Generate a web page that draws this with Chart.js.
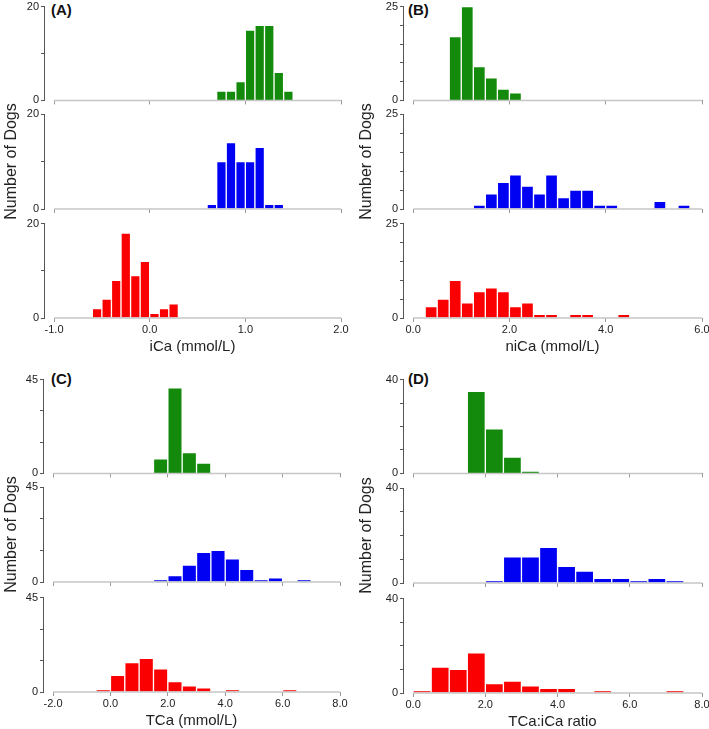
<!DOCTYPE html>
<html>
<head>
<meta charset="utf-8">
<script src="https://cdn.jsdelivr.net/npm/chart.js@4/dist/chart.umd.min.js"></script>
<style>
  body { margin: 0; width: 709px; height: 729px; overflow: hidden; background: #fff; position: relative; font-family: "Liberation Sans", Arial, sans-serif; }
  canvas { position: absolute; }
  .tag { position: absolute; font-weight: bold; font-size: 15px; line-height: 15px; color: #111; }
</style>
</head>
<body>
<div class="tag" style="left:51px;top:2px">(A)</div>
<div class="tag" style="left:408px;top:2px">(B)</div>
<div class="tag" style="left:51px;top:371px">(C)</div>
<div class="tag" style="left:408px;top:371px">(D)</div>
<script>
// iCa, bins of 0.1
const iCaTicks = [-1, 0, 1, 2];
const iCaStarts = [0.7, 0.6, -0.6];
const iCaGreen = [2, 2, 4, 15, 16, 16, 6, 2];
const iCaBlue = [1, 10, 14, 10, 10, 13, 1, 1];
const iCaRed = [2, 4, 8, 18, 9, 12, 1, 2, 3];

// niCa, bins of 0.25
const niCaTicks = [0, 2, 4, 6];
const niCaStarts = [0.75, 1.25, 0.25];
const niCaGreen = [17, 25, 9, 6, 3, 2];
const niCaBlue = [1, 4, 7, 9, 6, 4, 9, 3, 5, 5, 1, 1, 0, 0, 0, 2, 0, 1];
const niCaRed = [3, 5, 10, 4, 7, 8, 7, 3, 4, 1, 1, 0, 1, 1, 0, 0, 1];

// TCa, bins of 0.5
const tCaTicks = [-2, 0, 2, 4, 6, 8];
const tCaStarts = [1.5, 1.5, -0.5];
const tCaGreen = [7, 41, 10, 5];
const tCaBlue = [1, 3, 8, 14, 15, 11, 6, 1, 2, 0, 1];
const tCaRed = [1, 8, 14, 16, 11, 5, 3, 2, 0, 1, 0, 0, 0, 1];

// TCa:iCa ratio, bins of 0.5
const ratioTicks = [0, 2, 4, 6, 8];
const ratioStarts = [1.5, 2.0, 0];
const ratioGreen = [35, 19, 7, 1];
const ratioBlue = [1, 11, 11, 15, 7, 5, 2, 2, 1, 2, 1];
const ratioRed = [1, 11, 10, 17, 4, 5, 3, 2, 2, 0, 1, 0, 0, 0, 1];

const colors = ['#138a0b', '#0000f2', '#fb0000'];

Chart.defaults.font.family = '"Liberation Sans", Arial, sans-serif';
Chart.defaults.color = '#222';

const panels = [
  { left: 0, axisW: 44, width: 354, tops: [6, 114, 223], ticks: iCaTicks, bin: 0.1, starts: iCaStarts,
    counts: [iCaGreen, iCaBlue, iCaRed], yMax: 20, yStep: 10, title: 'iCa (mmol/L)' },
  { left: 355, axisW: 48, width: 360, tops: [6, 114, 223], ticks: niCaTicks, bin: 0.25, starts: niCaStarts,
    counts: [niCaGreen, niCaBlue, niCaRed], yMax: 25, yStep: 5, title: 'niCa (mmol/L)' },
  { left: 0, axisW: 43, width: 353, tops: [379, 487, 597], ticks: tCaTicks, bin: 0.5, starts: tCaStarts,
    counts: [tCaGreen, tCaBlue, tCaRed], yMax: 45, yStep: 15, title: 'TCa (mmol/L)' },
  { left: 355, axisW: 48, width: 360, tops: [379, 488, 598], ticks: ratioTicks, bin: 0.5, starts: ratioStarts,
    counts: [ratioGreen, ratioBlue, ratioRed], yMax: 40, yStep: 10, title: 'TCa:iCa ratio' }
];

// x axis line starts at the first tick, detached from the y axis
const baseline = {
  id: 'baseline',
  afterDatasetsDraw(chart) {
    const x = chart.scales.x, a = chart.chartArea, ctx = chart.ctx;
    ctx.save();
    ctx.strokeStyle = '#c6c6c6';
    ctx.lineWidth = 1.5;
    ctx.beginPath();
    ctx.moveTo(x.getPixelForValue(x.ticks[0].value), a.bottom);
    ctx.lineTo(a.right, a.bottom);
    ctx.stroke();
    ctx.restore();
  }
};

function makeChart(p, row) {
  const last = row === 2;
  const plotH = 95;
  const extra = row === 1 ? 20 : 0; // room for the rotated y title
  const padTop = 8 + extra;
  const cv = document.createElement('canvas');
  cv.width = p.width;
  cv.height = padTop + plotH + (last ? 40 : 8) + extra;
  cv.style.left = p.left + 'px';
  cv.style.top = (p.tops[row] - padTop) + 'px';
  document.body.appendChild(cv);

  const t0 = p.ticks[0], tN = p.ticks[p.ticks.length - 1];
  const pts = p.counts[row].map((c, i) => ({ x: p.starts[row] + (i + 0.5) * p.bin, y: c }));

  new Chart(cv, {
    type: 'bar',
    data: {
      datasets: [{
        data: pts,
        backgroundColor: colors[row],
        borderColor: 'rgba(255,255,255,0.85)',
        borderWidth: 1,
        barPercentage: 1,
        categoryPercentage: 1
      }]
    },
    options: {
      responsive: false,
      animation: false,
      devicePixelRatio: 1,
      layout: { padding: { top: padTop, right: 13, bottom: extra, left: 0 } },
      plugins: { legend: { display: false }, tooltip: { enabled: false } },
      scales: {
        x: {
          type: 'linear',
          bounds: 'data',
          offset: false,
          min: t0 - (tN - t0) * 0.035,
          max: tN,
          afterBuildTicks: s => { s.ticks = p.ticks.map(v => ({ value: v })); },
          afterFit: s => { s.height = last ? 40 : 8; },
          grid: { offset: false, drawOnChartArea: false, drawTicks: true, tickLength: 4, color: '#999' },
          border: { display: false },
          ticks: { display: last, callback: v => v.toFixed(1), font: { size: 11 }, color: '#222', padding: 1, maxRotation: 0, autoSkip: false },
          title: { display: last, text: p.title, font: { size: 15 }, color: '#222', padding: { top: 0, bottom: 2 } }
        },
        y: {
          min: 0,
          max: p.yMax,
          afterFit: s => { s.width = p.axisW; },
          ticks: { stepSize: p.yStep, callback: v => (v === 0 || v === p.yMax) ? v : '', font: { size: 11 }, color: '#222', padding: 2 },
          grid: { drawOnChartArea: false, tickLength: 3, color: '#555' },
          border: { color: '#555' },
          title: { display: row === 1, text: 'Number of Dogs', font: { size: 16 }, color: '#222', padding: { top: 2, bottom: 0 } }
        }
      }
    },
    plugins: [baseline]
  });
}

panels.forEach(p => [0, 1, 2].forEach(r => makeChart(p, r)));
</script>
</body>
</html>
